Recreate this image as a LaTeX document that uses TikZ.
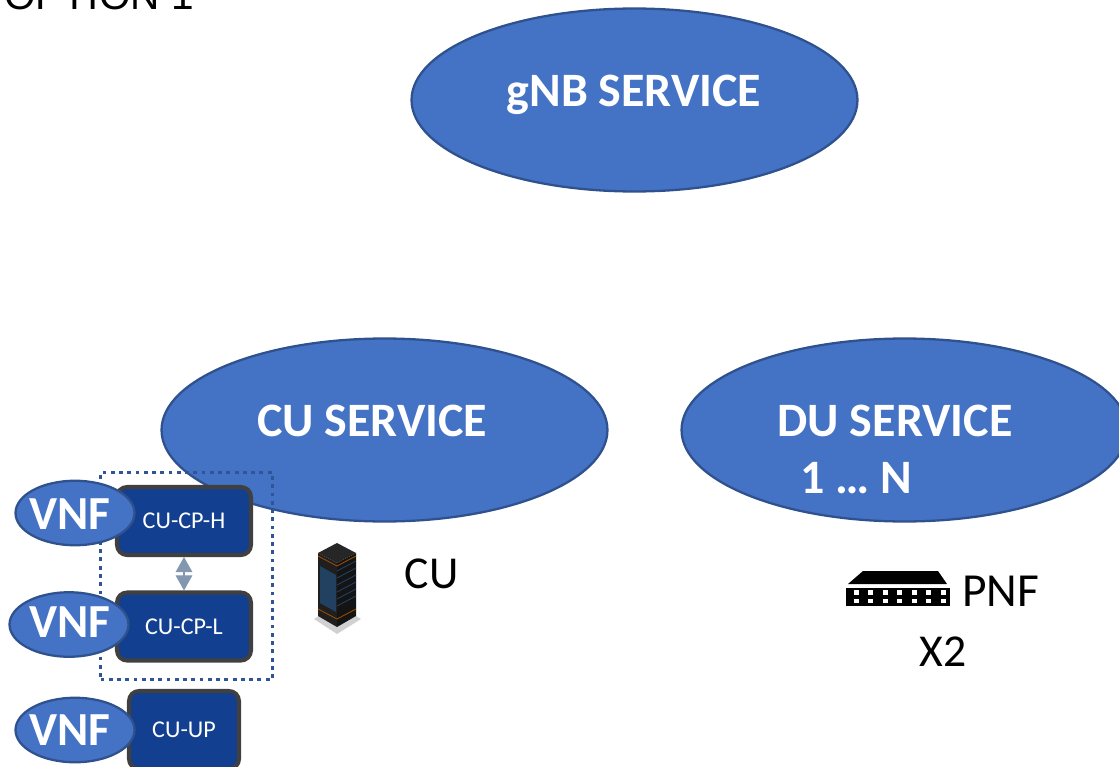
\documentclass[tikz,border=0pt]{standalone}
\usepackage{fontspec}
\setmainfont{Carlito}
\newfontfamily\optionfont{Liberation Sans}
\usetikzlibrary{shapes.geometric,arrows.meta}
\definecolor{svcblue}{HTML}{4472C4}
\definecolor{svcline}{HTML}{2F528F}
\definecolor{boxblue}{HTML}{123F8F}
\definecolor{boxline}{HTML}{404040}
\definecolor{dotblue}{HTML}{2F5597}
\definecolor{linkgrey}{HTML}{8497B0}
\definecolor{rackblue}{HTML}{22405F}
\tikzset{
  service/.style={ellipse,draw=svcline,fill=svcblue,line width=1.3pt,inner sep=0pt,minimum width=8.92cm,minimum height=3.66cm},
  svctext/.style={text=white,font=\bfseries\fontsize{27.3}{30}\selectfont,inner sep=0pt},
  vnf/.style={ellipse,draw=svcline,fill=svcblue,line width=1.3pt,inner sep=0pt,minimum width=2.38cm,minimum height=1.29cm},
  vnftext/.style={text=white,font=\bfseries\fontsize{27}{30}\selectfont,inner sep=0pt},
  cubox/.style={rectangle,rounded corners=0.2cm,draw=boxline,fill=boxblue,line width=2.3pt,inner sep=0pt,text=white,font=\fontsize{13.7}{16}\selectfont,minimum height=1.36cm},
  plain/.style={inner sep=0pt,font=\fontsize{26}{30}\selectfont},
}
\begin{document}
\begin{tikzpicture}[x=0.02cm,y=-0.02cm]
    \useasboundingbox (0,0) rectangle (1119,767);
    \clip (0,0) rectangle (1119,767);
      \node[inner sep=0pt,anchor=base west,font=\optionfont\fontsize{23.1}{28}\selectfont] (option) at (4,10) {OPTION 1};
      % services
      \node[service] (gnb) at (634.5,100) {};
      \node[service] (cu) at (384.5,430) {};
      \node[service] (du) at (904.5,430) {};
      \node[svctext,anchor=base] (gnbtext) at (634,107) {gNB SERVICE};
      \node[svctext,anchor=base] (cutext) at (372,436) {CU SERVICE};
      \node[svctext,anchor=base] (dutext) at (895,436) {DU SERVICE};
      \node[svctext,anchor=base] (dun) at (856,493) {1 … N};
      % dotted group
      \node[draw=dotblue,line width=2.1pt,dash pattern=on 2.2pt off 2.5pt,minimum width=3.44cm,minimum height=4.14cm,inner sep=0pt] (group) at (186.5,576) {};
      % functions
      \node[cubox,minimum width=2.68cm] (cph) at (184,521) {CU-CP-H};
      \node[cubox,minimum width=2.68cm] (cpl) at (184,626.5) {CU-CP-L};
      \node[cubox,minimum width=2.2cm,minimum height=1.56cm] (cup) at (184,730) {CU-UP};
      \draw[linkgrey,line width=0.6pt,{Triangle[width=9.5pt,length=8.6pt]}-{Triangle[width=9.5pt,length=8.6pt]}] (cph) -- (cpl);
      \node[vnf] (vnfh) at (75,513) {};
      \node[vnf] (vnfl) at (69,624.5) {};
      \node[vnf] (vnfu) at (75,730) {};
      \node[vnftext] (vnfhtext) at (70,514) {VNF};
      \node[vnftext] (vnfltext) at (70,622) {VNF};
      \node[vnftext] (vnfutext) at (70,730) {VNF};
      % rack
      \fill[black!18] (314,619) -- (337,605) -- (361,619) -- (337,634) -- cycle;
      \fill[black!88] (318,553) -- (337,563) -- (337,627) -- (318,616) -- cycle;
      \fill[black!92] (356,553) -- (337,563) -- (337,627) -- (356,616) -- cycle;
      \fill[black!85] (337,543) -- (356,553) -- (337,563) -- (318,553) -- cycle;
      \fill[rackblue] (320,566) -- (336,575) -- (336,612) -- (320,603) -- cycle;
      \draw[orange!60!black,line width=0.5pt] (318,556) -- (337,566) -- (356,556);
      \draw[orange!60!black,line width=0.5pt] (318,609) -- (337,619) -- (356,609);
      \foreach \y in {571,578,585,592,599,606}
        \draw[rackblue,line width=0.5pt] (337,\y) -- (356,\y-10);
      % labels
      \node[plain] (culabel) at (431.5,574) {CU};
      \node[plain,font=\fontsize{27}{30}\selectfont] (pnflabel) at (1000.5,591) {PNF};
      \node[plain] (xlabel) at (943,652) {X2};
      % switch
      \fill[black] (863,571) -- (938,571) -- (947,584) -- (848,584) -- cycle;
      \fill[black] (846,588) rectangle (950,606);
      \foreach \x in {856,870.7,885,899.3,914,928.7,943.3}
        \foreach \y in {592.3,601}
          \fill[white] (\x-2.5,\y-2.2) rectangle (\x+2.5,\y+2.2);
\end{tikzpicture}
\end{document}
